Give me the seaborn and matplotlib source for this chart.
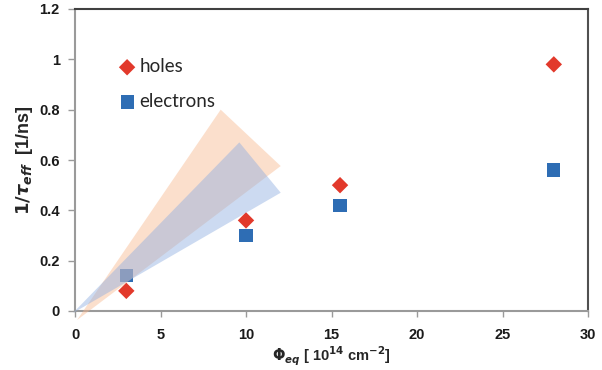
import matplotlib
matplotlib.use("Agg")
import matplotlib.pyplot as plt
import seaborn as sns
import pandas as pd

# ---- data ----
fluence = [3, 10, 15.5, 28]
holes = [0.08, 0.36, 0.50, 0.98]
electrons = [0.14, 0.30, 0.42, 0.56]

# shaded wedge regions (data coordinates of polygon vertices)
holes_band_x = [0.12, 8.52, 12.03]
holes_band_y = [-0.036, 0.80, 0.576]
electrons_band_x = [-0.12, 9.61, 12.03]
electrons_band_y = [-0.008, 0.67, 0.47]

x_ticks = [0, 5, 10, 15, 20, 25, 30]
y_ticks = [0, 0.2, 0.4, 0.6, 0.8, 1.0, 1.2]
y_tick_labels = ["0", "0.2", "0.4", "0.6", "0.8", "1", "1.2"]

sns.set_theme(style="white")
plt.rcParams['font.family'] = ['Liberation Sans', 'DejaVu Sans']
plt.rcParams['font.weight'] = 'bold'
plt.rcParams['mathtext.fontset'] = 'custom'
plt.rcParams['mathtext.rm'] = 'DejaVu Sans:bold'
plt.rcParams['mathtext.bf'] = 'DejaVu Sans:bold'
plt.rcParams['mathtext.it'] = 'DejaVu Sans:italic:bold'

fig = plt.figure(figsize=(6.02, 3.70), dpi=100)
ax = fig.add_axes([75 / 602, 59 / 370, 513 / 602, 302 / 370])

df_h = pd.DataFrame({"x": fluence, "y": holes})
df_e = pd.DataFrame({"x": fluence, "y": electrons})

sns.scatterplot(data=df_h, x="x", y="y", marker="D", s=70, color="#E2392B",
                edgecolor="none", label="holes", ax=ax, zorder=2)
sns.scatterplot(data=df_e, x="x", y="y", marker="s", s=90, color="#2E6DB4",
                edgecolor="none", label="electrons", ax=ax, zorder=2)

ax.fill(holes_band_x, holes_band_y, color="#F8B98F", alpha=0.45, lw=0, zorder=3, clip_on=False)
ax.fill(electrons_band_x, electrons_band_y, color="#8FAEE0", alpha=0.45, lw=0, zorder=3, clip_on=False)

ax.set_xlim(0, 30)
ax.set_ylim(0, 1.2)
ax.set_xticks(x_ticks)
ax.set_yticks(y_ticks)
ax.set_yticklabels(y_tick_labels)

ax.tick_params(axis="both", labelsize=10.5, labelcolor="#1a1a1a")
ax.tick_params(axis="x", direction="out", length=4, width=1, color="#9a9a9a", pad=8, bottom=True)
ax.tick_params(axis="y", direction="out", length=5, width=1, color="#9a9a9a", pad=6, left=True)

ax.spines["left"].set_color("#9a9a9a")
ax.spines["bottom"].set_color("#9a9a9a")
ax.spines["top"].set_color("#404040")
ax.spines["right"].set_color("#505050")
for s in ax.spines.values():
    s.set_linewidth(1.5)

ax.set_xlabel(r"$\Phi_{eq}$ [ 10$^{14}$ cm$^{-2}$]", fontsize=10.5, fontweight="bold", labelpad=2)
ax.set_ylabel(r"$1/\tau_{eff}$  [1/ns]", fontsize=13, fontweight="bold", labelpad=3)

leg = ax.legend(loc="upper left", bbox_to_anchor=(0.065, 0.862), frameon=False,
                prop={"family": "Lato", "size": 13.5, "weight": "normal"}, labelspacing=0.95,
                handletextpad=0.05, handlelength=1.2, borderaxespad=0)

fig.savefig("out.png", dpi=100)
